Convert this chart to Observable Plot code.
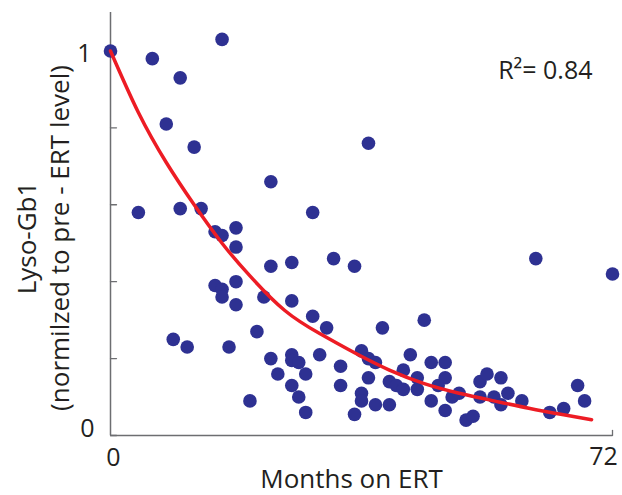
<!DOCTYPE html>
<html><head><meta charset="utf-8">
<script src="https://cdn.jsdelivr.net/npm/d3@7"></script>
<script src="https://cdn.jsdelivr.net/npm/@observablehq/plot@0.6"></script>
<style>
body{margin:0;background:#fff;}
#chart{width:622px;height:495px;overflow:hidden;}
</style>
</head><body><div id="chart"></div>
<script>
// Months on ERT for each patient sample
const months = [0, 6, 10, 16, 8, 12, 23, 4, 10, 13, 15, 16, 18, 18, 29, 37,
  23, 26, 32, 35, 61, 72,
  18, 15, 16, 16, 18, 22, 26, 29, 31, 39, 45, 21, 9, 11, 17,
  23, 26, 26, 27, 28, 30, 24, 26, 27, 28, 20, 33, 33, 36, 37, 38, 37, 36, 36, 35,
  38, 40, 40, 41, 42, 42, 43, 44, 44, 46, 48, 48, 47, 46, 48, 49, 50, 51, 52,
  53, 54, 53, 55, 56, 56, 57, 59, 63, 65, 67, 68];
// Lyso-Gb1 normalized to pre-ERT level
const values = [1.00, 0.98, 0.93, 1.03, 0.81, 0.75, 0.66, 0.58, 0.59, 0.59, 0.53, 0.52, 0.54, 0.49, 0.58, 0.76,
  0.44, 0.45, 0.46, 0.44, 0.46, 0.42,
  0.40, 0.39, 0.38, 0.36, 0.34, 0.36, 0.35, 0.31, 0.28, 0.28, 0.30, 0.27, 0.25, 0.23, 0.23,
  0.20, 0.21, 0.195, 0.19, 0.16, 0.21, 0.16, 0.13, 0.10, 0.06, 0.09, 0.18, 0.13, 0.22, 0.20, 0.19, 0.15, 0.11, 0.09, 0.055,
  0.08, 0.08, 0.14, 0.13, 0.12, 0.17, 0.21, 0.15, 0.12, 0.19, 0.19, 0.15, 0.13, 0.09, 0.065, 0.10, 0.11, 0.04, 0.05,
  0.14, 0.16, 0.10, 0.10, 0.15, 0.08, 0.11, 0.09, 0.06, 0.07, 0.13, 0.09];
// Fitted decay curve
const fitMonths = [0, 4, 8, 12, 16, 20, 25, 30, 35, 40, 45, 50, 55, 60, 65, 69];
const fitValues = [1.00, 0.84, 0.71, 0.60, 0.50, 0.415, 0.325, 0.265, 0.215, 0.17, 0.135, 0.11, 0.09, 0.071, 0.054, 0.041];
// Ticks and labels
const yTicks = [0, 0.2, 0.4, 0.6, 0.8, 1];
const xTicks = [0, 72];
const xLabel = "Months on ERT";
const yLabel1 = "Lyso-Gb1";
const yLabel2 = "(normilzed to pre - ERT level)";
const r2Label = "R²= 0.84";

const points = months.map((m, i) => ({month: m, value: values[i]}));
const fit = fitMonths.map((m, i) => ({month: m, value: fitValues[i]}));

const FONT = "Open Sans";
const TXT = "#231f20";
const AX = "#6d6e71";
const tickShape = {draw(context, l) { context.moveTo(0, 0); context.lineTo(0, -l); }};

const chart = Plot.plot({
  width: 622,
  height: 495,
  marginLeft: 110,
  marginRight: 10,
  marginTop: 12,
  marginBottom: 60,
  style: {fontFamily: FONT, background: "#fff", overflow: "visible"},
  x: {domain: [0, 72], axis: null},
  y: {domain: [0, 1.1], axis: null},
  marks: [
    Plot.ruleX([0], {stroke: AX, strokeWidth: 1.5}),
    Plot.ruleY([0], {stroke: AX, strokeWidth: 1.5}),
    Plot.vector(yTicks, {x: 0, y: d => d, length: 6, rotate: 90, anchor: "start", shape: tickShape, stroke: AX, strokeWidth: 1.3}),
    Plot.vector(xTicks.slice(1), {x: d => d, y: 0, length: 5, rotate: 0, anchor: "start", shape: tickShape, stroke: AX, strokeWidth: 1.3}),
    Plot.text([yTicks[yTicks.length - 1]], {x: 0, y: d => d, text: d => String(d), textAnchor: "end", dx: -19, dy: 3, fontSize: 25, fill: TXT}),
    Plot.text([yTicks[0]], {x: 0, y: d => d, text: d => String(d), textAnchor: "end", dx: -16, dy: -7, fontSize: 25, fill: TXT}),
    Plot.text([xTicks[0]], {x: d => d, y: 0, text: d => String(d), dx: 3, dy: 22, fontSize: 25, fill: TXT}),
    Plot.text([xTicks[1]], {x: d => d, y: 0, text: d => String(d), dx: -9, dy: 21, fontSize: 25, fill: TXT}),
    Plot.text([xLabel], {frameAnchor: "bottom", text: d => d, textAnchor: "middle", lineAnchor: "middle", dx: -10, dy: 44.5, fontSize: 26, fill: TXT}),
    Plot.text([yLabel1], {frameAnchor: "left", text: d => d, textAnchor: "middle", lineAnchor: "middle", rotate: -90, dx: -83, dy: 14, fontSize: 26, fill: TXT}),
    Plot.text([yLabel2], {frameAnchor: "left", text: d => d, textAnchor: "middle", lineAnchor: "middle", rotate: -90, dx: -50, dy: 14, fontSize: 26, fill: TXT}),
    Plot.text([r2Label], {frameAnchor: "top-right", text: d => d, textAnchor: "end", lineAnchor: "middle", dx: -20, dy: 58, fontSize: 25, fill: TXT}),
    Plot.dot(points, {x: "month", y: "value", r: 6.8, fill: "#2e3192", stroke: "none"}),
    Plot.line(fit, {x: "month", y: "value", stroke: "#ed1c24", strokeWidth: 3.5, curve: "natural"})
  ]
});
document.getElementById("chart").appendChild(chart);
</script>
</body></html>
